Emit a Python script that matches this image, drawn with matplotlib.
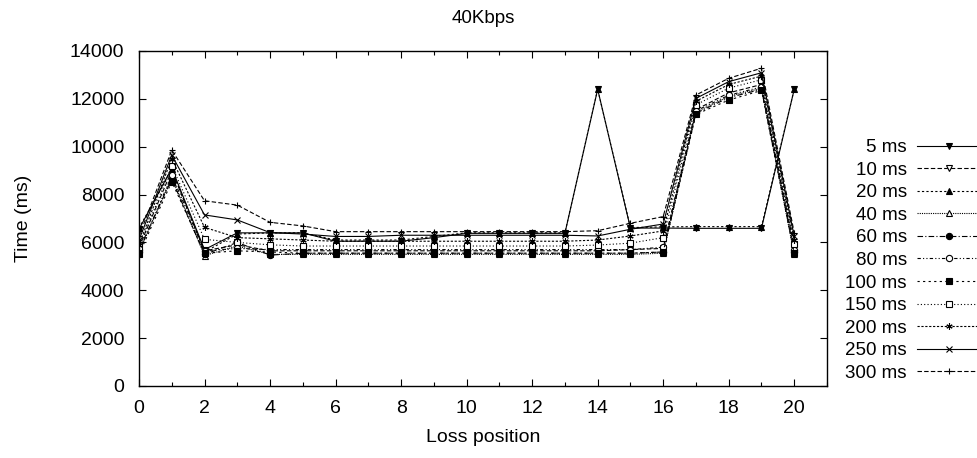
import matplotlib
matplotlib.use("Agg")
import matplotlib.pyplot as plt
import numpy as np

plt.rcParams['font.family'] = ['Liberation Sans', 'DejaVu Sans']

positions = list(range(21))
labels = ["5 ms", "10 ms", "20 ms", "40 ms", "60 ms", "80 ms", "100 ms",
          "150 ms", "200 ms", "250 ms", "300 ms"]

ms5 = [6550, 9100, 5700, 6400, 6400, 6400, 6050, 6050, 6050, 6200, 6380, 6380, 6380, 6380, 12400, 6600, 6600, 6590, 6590, 6590, 12400]
ms10 = [5800, 9000, 5650, 5900, 5650, 5650, 5650, 5650, 5650, 5650, 5650, 5650, 5650, 5650, 5650, 5700, 5750, 11550, 12250, 12600, 5800]
ms20 = [6600, 9050, 5600, 6350, 6400, 6400, 6100, 6100, 6100, 6250, 6400, 6400, 6400, 6400, 12400, 6620, 6650, 6660, 6660, 6660, 12400]
ms40 = [5600, 8700, 5450, 5850, 5500, 5500, 5500, 5500, 5500, 5500, 5500, 5500, 5500, 5500, 5500, 5500, 5550, 11450, 12100, 12450, 5500]
ms60 = [5700, 8650, 5500, 6000, 5470, 5550, 5550, 5550, 5550, 5550, 5550, 5550, 5550, 5550, 5550, 5550, 5600, 11400, 12050, 12400, 5600]
ms80 = [5600, 8800, 5650, 5750, 5700, 5700, 5700, 5700, 5700, 5700, 5700, 5700, 5700, 5700, 5700, 5700, 5800, 11500, 12150, 12500, 5700]
ms100 = [5500, 8540, 5550, 5650, 5600, 5550, 5550, 5550, 5550, 5550, 5550, 5550, 5550, 5550, 5550, 5550, 5600, 11350, 11950, 12350, 5550]
ms150 = [5800, 9200, 6130, 6000, 5900, 5850, 5850, 5850, 5850, 5850, 5850, 5850, 5850, 5850, 5890, 5970, 6200, 11750, 12450, 12800, 5950]
ms200 = [5900, 9500, 6630, 6200, 6150, 6100, 6050, 6050, 6050, 6050, 6050, 6050, 6050, 6050, 6100, 6270, 6480, 11900, 12600, 12950, 6100]
ms250 = [6100, 9650, 7150, 6940, 6410, 6350, 6250, 6250, 6300, 6300, 6300, 6300, 6300, 6300, 6270, 6550, 6770, 12020, 12720, 13090, 6250]
ms300 = [6250, 9860, 7740, 7560, 6840, 6690, 6450, 6450, 6450, 6450, 6450, 6450, 6450, 6450, 6490, 6800, 7080, 12160, 12860, 13280, 6400]

series = [ms5, ms10, ms20, ms40, ms60, ms80, ms100, ms150, ms200, ms250, ms300]

styles = [
    dict(ls='-', marker='v', mfc='black'),
    dict(ls=(0, (4, 2)), marker='v', mfc='white'),
    dict(ls=(0, (2, 2)), marker='^', mfc='black'),
    dict(ls=(0, (1, 1)), marker='^', mfc='white'),
    dict(ls=(0, (5, 2, 1, 2)), marker='o', mfc='black'),
    dict(ls=(0, (3, 2, 1, 2, 1, 2)), marker='o', mfc='white'),
    dict(ls=(0, (2, 3)), marker='s', mfc='black'),
    dict(ls=(0, (1, 2)), marker='s', mfc='white'),
    dict(ls=(0, (2, 1.5)), marker=(6, 2, 0), mfc='black'),
    dict(ls='-', marker='x', mfc='black'),
    dict(ls=(0, (4, 2)), marker='+', mfc='black'),
]

fig = plt.figure(figsize=(9.78, 4.58), dpi=100)
ax = fig.add_axes([139/978, 1-386/458, (827-139)/978, (386-51)/458])

handles = []
for lab, ys, st in zip(labels, series, styles):
    h, = ax.plot(positions, ys, color='black', lw=0.8, linestyle=st['ls'],
                 marker=st['marker'], markersize=4.5, mfc=st['mfc'],
                 mec='black', mew=0.8, label=lab)
    handles.append(h)

ax.set_xlim(0, 21)
ax.set_ylim(0, 14000)
ax.set_xticks(range(0, 21, 2))
ax.set_xticks(range(0, 22, 1), minor=True)
ax.set_yticks(range(0, 14001, 2000))
ax.tick_params(which='both', direction='in', top=True, right=True, labelsize=14, width=0.8)
ax.tick_params(which='major', length=5)
ax.tick_params(axis='x', which='major', pad=10)
ax.tick_params(axis='y', which='major', pad=10.5)
ax.tick_params(which='minor', length=3)
for sp in ax.spines.values():
    sp.set_linewidth(1.0)

ax.set_title("40Kbps", fontsize=13.5, y=1.0 + 28/335, pad=0)
ax.set_xlabel("Loss position", fontsize=14)
ax.xaxis.set_label_coords(0.5, -(438-386)/335, transform=ax.transAxes)
ax.xaxis.label.set_va('center')
ax.set_ylabel("Time (ms)", fontsize=14)
ax.yaxis.set_label_coords(-(139-24)/688, 0.5, transform=ax.transAxes)
ax.yaxis.label.set_va('center')

leg = fig.legend(handles=handles, loc='upper right', bbox_to_anchor=(1.003, 1-139/458),
                 frameon=False, markerfirst=False, fontsize=13.5, handlelength=3.4,
                 handletextpad=0.55, labelspacing=0.29, borderaxespad=0, borderpad=0)

fig.savefig("out.png", dpi=100)
